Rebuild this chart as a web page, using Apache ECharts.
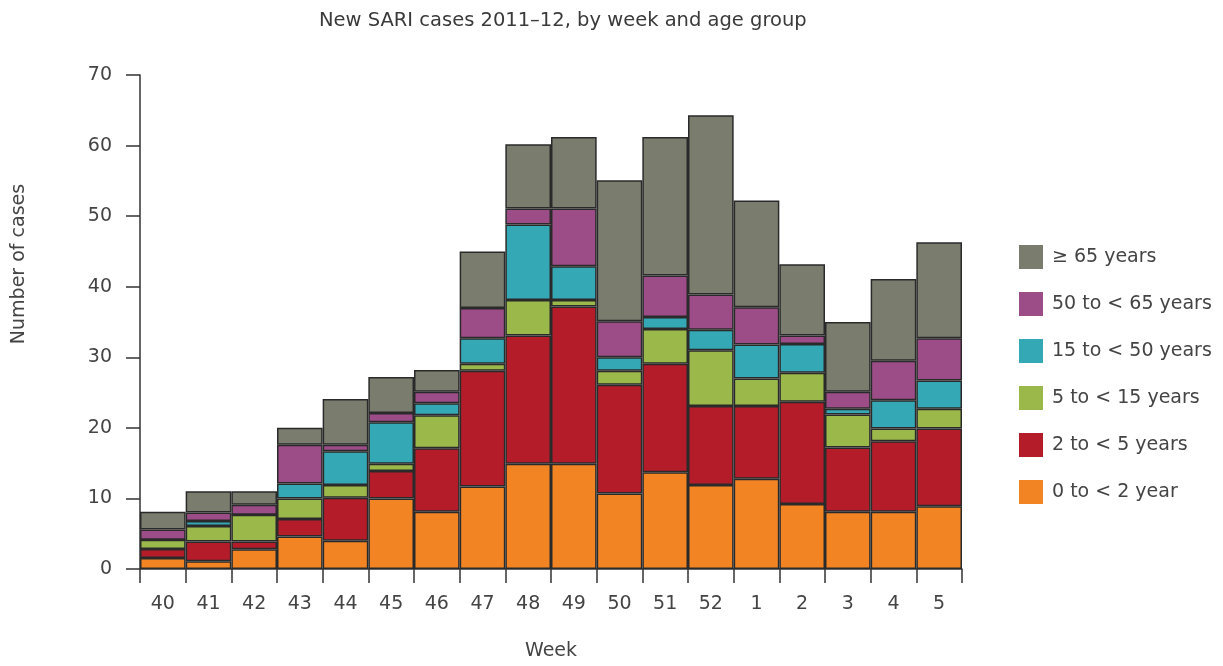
<!DOCTYPE html>
<html>
<head>
<meta charset="utf-8">
<script src="https://cdn.jsdelivr.net/npm/echarts@6/dist/echarts.min.js"></script>
<style>html,body{margin:0;padding:0;background:#fff}#c{width:1223px;height:666px}</style>
</head>
<body>
<div id="c"></div>
<script>
const weeks = ['40','41','42','43','44','45','46','47','48','49','50','51','52','1','2','3','4','5'];
const age0to2   = [1.55, 1.1, 2.8, 4.6, 4.0, 10.0, 8.1, 11.7, 14.9, 14.9, 10.7, 13.7, 11.9, 12.8, 9.2, 8.1, 8.1, 8.9];
const age2to5   = [1.3, 2.8, 1.1, 2.5, 6.1, 3.9, 9.0, 16.4, 18.2, 22.3, 15.4, 15.4, 11.2, 10.3, 14.5, 9.1, 10.0, 11.0];
const age5to15  = [1.3, 2.2, 3.8, 2.9, 1.8, 1.0, 4.7, 1.0, 5.0, 0.9, 2.0, 4.9, 7.9, 3.9, 4.1, 4.7, 1.8, 2.8];
const age15to50 = [0, 0.7, 0, 2.1, 4.8, 5.9, 1.7, 3.6, 10.7, 4.8, 1.9, 1.7, 2.9, 4.8, 4.1, 0.8, 4.0, 4.0];
const age50to65 = [1.45, 1.2, 1.4, 5.5, 0.9, 1.3, 1.6, 4.3, 2.3, 8.2, 5.1, 5.9, 5.0, 5.3, 1.2, 2.4, 5.6, 6.0];
const age65plus = [2.5, 3.0, 1.9, 2.4, 6.5, 5.1, 3.1, 8.0, 9.1, 10.1, 20.0, 19.6, 25.4, 15.1, 10.1, 9.9, 11.6, 13.6];
const seriesNames = ['0 to < 2 year', '2 to < 5 years', '5 to < 15 years', '15 to < 50 years', '50 to < 65 years', '\u2265 65 years'];
const yTicks = [0, 10, 20, 30, 40, 50, 60, 70];

const colors = ['#f28423', '#b51c2a', '#9bb84a', '#34a8b5', '#9c4d87', '#7a7d6e'];
const dataSets = [age0to2, age2to5, age5to15, age15to50, age50to65, age65plus];
const font = 'DejaVu Sans';
const txt = '#444';

const chart = echarts.init(document.getElementById('c'), null, {renderer: 'canvas'});
chart.setOption({
  animation: false,
  backgroundColor: '#fff',
  color: colors,
  title: {
    text: 'New SARI cases 2011\u201312, by week and age group',
    left: 314, top: 6,
    textStyle: {fontFamily: font, fontSize: 19.5, fontWeight: 'normal', color: '#3a3a3a'}
  },
  legend: {
    orient: 'vertical',
    left: 1019, top: 245,
    padding: 0,
    itemWidth: 24, itemHeight: 24, itemGap: 23,
    data: seriesNames.slice().reverse(),
    itemStyle: {borderWidth: 0},
    textStyle: {fontFamily: font, fontSize: 19, color: txt, padding: [0, 0, 0, 4]},
    icon: 'rect'
  },
  grid: {left: 140, right: 261, top: 75, bottom: 95, containLabel: false},
  xAxis: {
    type: 'category',
    data: weeks,
    name: 'Week',
    nameLocation: 'middle',
    nameGap: 73,
    nameTextStyle: {fontFamily: font, fontSize: 19, color: txt},
    axisLine: {lineStyle: {color: '#333', width: 1.5}},
    axisTick: {show: true, length: 14, alignWithLabel: false, lineStyle: {color: '#333', width: 1.5}},
    axisLabel: {fontFamily: font, fontSize: 19, color: txt, margin: 26}
  },
  yAxis: {
    type: 'value',
    min: yTicks[0], max: yTicks[yTicks.length - 1], interval: 10,
    axisLine: {show: true, lineStyle: {color: '#333', width: 1.5}},
    axisTick: {show: true, length: 14, lineStyle: {color: '#333', width: 1.5}},
    axisLabel: {fontFamily: font, fontSize: 19, color: txt, margin: 28},
    splitLine: {show: false}
  },
  graphic: [{
    type: 'text',
    x: 19, y: 264,
    rotation: Math.PI / 2,
    style: {
      text: 'Number of cases',
      fill: txt,
      font: '19px "DejaVu Sans"',
      textAlign: 'center',
      textVerticalAlign: 'middle'
    }
  }],
  series: dataSets.map((d, i) => ({
    name: seriesNames[i],
    type: 'bar',
    stack: 'total',
    data: d,
    barCategoryGap: 0,
    itemStyle: {color: colors[i], borderColor: '#2a2a2a', borderWidth: 1.5}
  }))
});
</script>
</body>
</html>
